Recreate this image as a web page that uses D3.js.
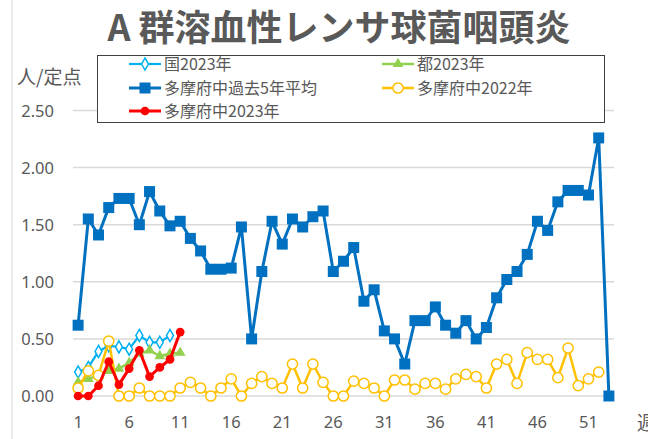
<!DOCTYPE html>
<html><head><meta charset="utf-8">
<script src="https://cdn.jsdelivr.net/npm/d3@7"></script>
<style>
html,body{margin:0;padding:0;background:#fff;}
svg{display:block;font-family:"Noto Sans","Noto Sans CJK JP",sans-serif;}
</style></head>
<body><svg id="c" width="648" height="439"></svg>
<script>
const weeks = [1,2,3,4,5,6,7,8,9,10,11,12,13,14,15,16,17,18,19,20,21,22,23,24,25,26,27,28,29,30,31,32,33,34,35,36,37,38,39,40,41,42,43,44,45,46,47,48,49,50,51,52,53];
const xTickLabels = [1,6,11,16,21,26,31,36,41,46,51];
const yTicks = [0,0.5,1,1.5,2,2.5];
const avg5 = [0.62,1.55,1.41,1.65,1.73,1.73,1.50,1.79,1.62,1.49,1.53,1.38,1.27,1.11,1.11,1.12,1.48,0.50,1.09,1.53,1.33,1.55,1.48,1.57,1.62,1.09,1.18,1.30,0.83,0.93,0.57,0.50,0.28,0.66,0.66,0.78,0.62,0.55,0.66,0.50,0.60,0.86,1.02,1.09,1.24,1.53,1.45,1.70,1.80,1.80,1.76,2.26,0.00];
const tama2022 = [0.07,0.22,0.18,0.48,0.00,0.00,0.07,0.00,0.00,0.00,0.07,0.12,0.07,0.00,0.07,0.15,0.00,0.11,0.17,0.11,0.07,0.28,0.07,0.28,0.12,0.00,0.00,0.13,0.11,0.07,0.00,0.14,0.14,0.06,0.11,0.11,0.06,0.15,0.19,0.17,0.07,0.28,0.32,0.11,0.38,0.32,0.32,0.16,0.42,0.09,0.15,0.21];
const kuni2023 = [0.21,0.25,0.39,0.44,0.43,0.41,0.53,0.47,0.47,0.53];
const to2023 = [0.12,0.15,0.18,0.22,0.24,0.29,0.37,0.40,0.35,0.37,0.38];
const tama2023 = [0.00,0.00,0.09,0.30,0.10,0.24,0.40,0.17,0.25,0.32,0.56];

const svg = d3.select("#c");
const grey = "#595959";

const x = d3.scaleBand().domain(weeks).range([73, 614]);
const xc = w => x(w) + x.bandwidth()/2;
const y = d3.scaleLinear().domain([0, 2.5]).range([396, 110.5]);

// left frame line
svg.append("line").attr("x1",12).attr("x2",12).attr("y1",0).attr("y2",439)
  .attr("stroke","#d9d9d9").attr("stroke-width",1);

// gridlines
svg.append("g").selectAll("line").data(yTicks).join("line")
  .attr("x1",73).attr("x2",614).attr("y1",d=>y(d)).attr("y2",d=>y(d))
  .attr("stroke","#d9d9d9").attr("stroke-width",1.5);

// y axis labels
const yAxis = d3.axisLeft(y).tickValues(yTicks).tickFormat(d3.format(".2f")).tickSize(0).tickPadding(0);
const gy = svg.append("g").attr("transform","translate(54,0)").call(yAxis);
gy.select(".domain").remove();
gy.selectAll("text").attr("fill",grey).style("font-size","16.5px").attr("dy","0.35em")
  .style("font-family","'Noto Sans',sans-serif");

// x axis labels
const xAxis = d3.axisBottom(x).tickValues(xTickLabels).tickSize(0).tickPadding(0);
const gx = svg.append("g").attr("transform","translate(0,422)").call(xAxis);
gx.select(".domain").remove();
gx.selectAll("text").attr("fill",grey).style("font-size","16.5px").attr("dy","0.35em")
  .style("font-family","'Noto Sans',sans-serif");

// title
svg.append("text").attr("x",339).attr("y",41).attr("text-anchor","middle")
  .attr("fill",grey).style("font-size","36px").style("font-weight","bold")
  .style("font-family","'Noto Sans CJK JP',sans-serif")
  .text("A 群溶血性レンサ球菌咽頭炎");

// units
svg.append("text").attr("x",17).attr("y",84).attr("fill",grey)
  .style("font-size","19px").style("font-family","'Noto Sans CJK JP',sans-serif").text("人/定点");
svg.append("text").attr("x",637).attr("y",430).attr("fill",grey)
  .style("font-size","19px").style("font-family","'Noto Sans CJK JP',sans-serif").text("週");

const line = d3.line().x(d=>xc(d[0])).y(d=>y(d[1]));
const pairs = arr => arr.map((v,i)=>[weeks[i], v]);

function marker(g, type, color, pts){
  const sel = g.selectAll("path.m").data(pts).join("path").attr("class","m")
    .attr("transform", d=>`translate(${xc(d[0])},${y(d[1])})`);
  if(type==="diamond"){
    sel.attr("d", d3.symbol(d3.symbolDiamond, 42)()).attr("fill","#fff").attr("stroke",color).attr("stroke-width",1.5);
  } else if(type==="triangle"){
    sel.attr("d", d3.symbol(d3.symbolTriangle, 50)()).attr("fill",color);
  } else if(type==="square"){
    sel.attr("d","M-5.5,-5.5H5.5V5.5H-5.5Z").attr("fill",color);
  } else if(type==="ocircle"){
    sel.attr("d", d3.symbol(d3.symbolCircle, 82)()).attr("fill","#fff").attr("stroke",color).attr("stroke-width",1.5);
  } else if(type==="fcircle"){
    sel.attr("d", d3.symbol(d3.symbolCircle, 60)()).attr("fill",color);
  }
}

const series = [
  {name:"国2023年", data:kuni2023, color:"#00b0f0", w:2.2, m:"diamond"},
  {name:"都2023年", data:to2023, color:"#92d050", w:2.5, m:"triangle"},
  {name:"多摩府中過去5年平均", data:avg5, color:"#0070c0", w:3, m:"square"},
  {name:"多摩府中2022年", data:tama2022, color:"#ffc000", w:2.5, m:"ocircle"},
  {name:"多摩府中2023年", data:tama2023, color:"#ff0000", w:3, m:"fcircle"}
];

series.forEach(s=>{
  const g = svg.append("g");
  const p = pairs(s.data);
  g.append("path").attr("d", line(p)).attr("fill","none").attr("stroke",s.color)
    .attr("stroke-width",s.w).attr("stroke-linejoin","round");
  marker(g, s.m, s.color, p);
});

// legend
const lg = svg.append("g");
lg.append("rect").attr("x",97.5).attr("y",55.5).attr("width",507).attr("height",67)
  .attr("fill","#fff").attr("stroke","#404040").attr("stroke-width",1);
const pos = [[129,64],[382,64],[129,88],[382,88],[129,111]];
series.forEach((s,i)=>{
  const [lx,ly] = pos[i];
  const g = lg.append("g");
  g.append("line").attr("x1",lx).attr("x2",lx+32).attr("y1",ly).attr("y2",ly)
    .attr("stroke",s.color).attr("stroke-width",s.w);
  const cx = lx+16;
  let d;
  if(s.m==="diamond") d = g.append("path").attr("d", d3.symbol(d3.symbolDiamond, 42)()).attr("fill","#fff").attr("stroke",s.color).attr("stroke-width",1.5);
  else if(s.m==="triangle") d = g.append("path").attr("d", d3.symbol(d3.symbolTriangle, 50)()).attr("fill",s.color);
  else if(s.m==="square") d = g.append("path").attr("d","M-5.5,-5.5H5.5V5.5H-5.5Z").attr("fill",s.color);
  else if(s.m==="ocircle") d = g.append("path").attr("d", d3.symbol(d3.symbolCircle, 82)()).attr("fill","#fff").attr("stroke",s.color).attr("stroke-width",1.5);
  else d = g.append("path").attr("d", d3.symbol(d3.symbolCircle, 60)()).attr("fill",s.color);
  d.attr("transform",`translate(${cx},${ly})`);
  g.append("text").attr("x",lx+35).attr("y",ly).attr("dy","0.35em").attr("fill",grey)
    .style("font-size","16px").style("font-family","'Noto Sans CJK JP',sans-serif").text(s.name);
});
</script></body></html>
